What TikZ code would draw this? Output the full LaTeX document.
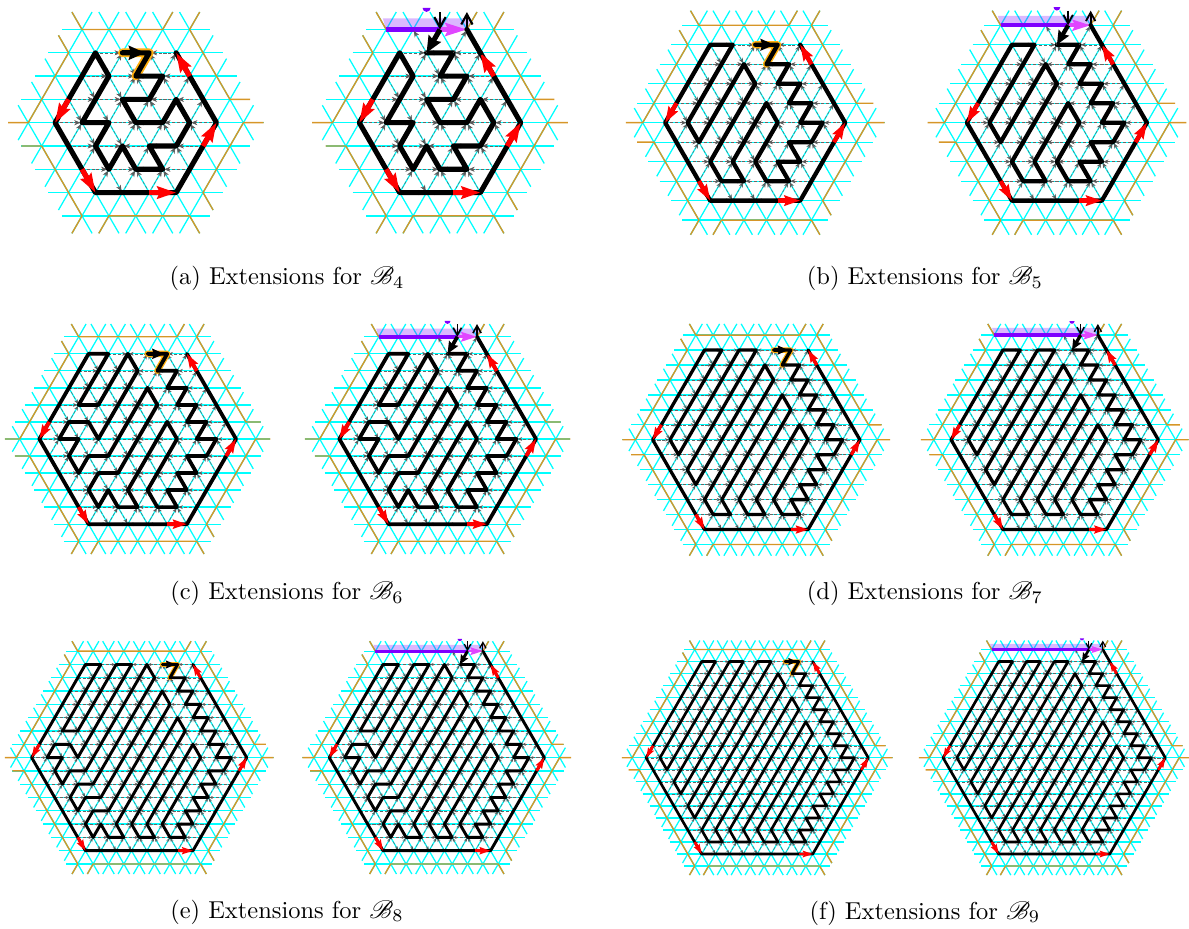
\documentclass[tikz,border=0pt]{standalone}
\usepackage{amsmath,amssymb,mathrsfs}
\usetikzlibrary{arrows.meta,positioning}

\definecolor{gridcyan}{RGB}{0,255,255}
\definecolor{rimbrown}{RGB}{214,150,40}
\definecolor{zorange}{RGB}{255,175,15}
\definecolor{barviolet}{RGB}{127,0,255}
\definecolor{barpink}{RGB}{224,70,255}

% z mark and first step, left picture of a pair
\newcommand{\zmark}{\draw[zpath] (\za,\nr) -- (\zc,\nr) -- (\zb,\zd);}
\newcommand{\zarrow}{\draw[startarrow] (\za,\nr) -- (\zf,\nr);}
% bar above the hexagon, right picture of a pair
\newcommand{\topbar}{%
  \fill[barband] (\nm,\nt) -- (\nl,\bt) -- (\nq,\bt) -- (\zd,\nt) -- cycle;
  \draw[barline] (\nm,\nt) -- (\zb,\nt);
  \draw[barhead] (\zb,\nt) -- (\zd,\nt);
  \fill[barviolet] (\za,\dy) ++(-\rd pt,0pt) arc[start angle=180,end angle=360,radius=\rd pt] -- cycle;}
\newcommand{\toparrows}{%
  \draw[route] (\nr,\nr) -- (\zd,\nt);
  \draw[flow] (\za,\nr) -- (\zg,\nt);
  \draw[flow] (\zc,\nr) -- (\zd,\nt);
  \draw[startarrow] (\zb,\nt) -- (\za,\nr);
  \draw[thinarrow] (\zb,\tp) -- (\zb,\nt);
  \draw[thinarrow] (\zd,\nt) -- (\zd,\tp);}

% center x, center y, unit, size, route, under route, over route
\newcommand{\hexpanel}[7]{%
  \begin{scope}[shift={(#1,929-#2)}]
    \pgfmathsetmacro\upt{#3*0.395}
    \pgfmathsetmacro\ux{\upt/2}
    \pgfmathsetmacro\uy{\upt*0.866}
    \pgfmathsetmacro\lw{\upt*0.19}
    \pgfmathsetmacro\al{\upt*0.23}
    \pgfmathsetmacro\aw{\upt*0.19}
    \pgfmathsetmacro\sh{\upt*0.06}
    \pgfmathsetmacro\rd{\upt*0.15}
    \pgfmathtruncatemacro\nr{#4}
    \pgfmathtruncatemacro\nn{2*#4}
    \pgfmathtruncatemacro\nt{#4+1}
    \pgfmathtruncatemacro\nm{-#4-1}
    \pgfmathtruncatemacro\za{#4-4}
    \pgfmathtruncatemacro\zb{#4-3}
    \pgfmathtruncatemacro\zc{#4-2}
    \pgfmathtruncatemacro\zd{#4-1}
    \pgfmathtruncatemacro\zg{#4-5}
    \pgfmathsetmacro\zf{#4-2.3}
    \pgfmathsetmacro\tp{#4+1.75}
    \pgfmathsetmacro\bt{#4+1.48}
    \pgfmathsetmacro\dy{#4+1.93}
    \pgfmathsetmacro\nl{-#4-1.25}
    \pgfmathsetmacro\nq{#4-0.7}
    \pgfmathsetmacro\gl{2*#4+3.5}
    \pgfmathsetmacro\ea{-#4-1.75}
    \pgfmathsetmacro\eb{#4-0.25}
    \begin{scope}[x=\ux pt,y=\uy pt]
      \foreach \ang in {0,60,120} {
        \begin{scope}[rotate=\ang]
          \foreach \k in {-\nt,...,\nt} {
            \pgfmathsetmacro\ge{\gl-abs(\k)}
            \draw[gridline] (-\ge,\k) -- (\ge,\k);
          }
        \end{scope}
      }
      \foreach \ang in {0,60,...,300} {
        \begin{scope}[rotate=\ang]
          \draw[rimline] (\ea,\tp) -- (\nm,\nt) -- (\zd,\nt) -- (\eb,\tp);
        \end{scope}
      }
      \foreach \r in {-\nr,...,\nr} {
        \pgfmathtruncatemacro\xe{\nn-abs(\r)}
        \pgfmathtruncatemacro\xs{-\xe}
        \pgfmathtruncatemacro\xt{\xs+2}
        \pgfmathtruncatemacro\ru{\r+1}
        \foreach \X in {\xs,\xt,...,\xe} {
          \pgfmathtruncatemacro\xa{\X+2}
          \pgfmathtruncatemacro\xb{\X+1}
          \pgfmathtruncatemacro\xc{\X-1}
          \ifnum\xa>\xe\else
            \ifnum\xb<0
              \draw[flow] (\X,\r) -- (\xa,\r);
            \else
              \draw[flow] (\xa,\r) -- (\X,\r);
            \fi
          \fi
          \ifnum\ru>\nr\else
            \ifnum\numexpr\X+\r+2\relax>\nn\else
              \draw[flow] (\X,\r) -- (\xb,\ru);
            \fi
            \ifnum\numexpr\r+2-\X\relax>\nn\else
              \ifnum\X<1
                \draw[flow] (\xc,\ru) -- (\X,\r);
              \else
                \draw[flow] (\X,\r) -- (\xc,\ru);
              \fi
            \fi
          \fi
        }
      }
      #6
      \draw[route] plot coordinates {#5};
      \pgfmathtruncatemacro\rp{\nr+1}
      \pgfmathtruncatemacro\rq{\nr-1}
      \pgfmathtruncatemacro\rs{\nr-2}
      \pgfmathtruncatemacro\rw{\nn-1}
      \draw[redarrow] (-\rw,1) -- (-\nn,0);
      \draw[redarrow] (-\rp,-\rq) -- (-\nr,-\nr);
      \draw[redarrow] (\rs,-\nr) -- (\nr,-\nr);
      \draw[redarrow] (\rw,-1) -- (\nn,0);
      \draw[redarrow] (\rp,\rq) -- (\nr,\nr);
      #7
    \end{scope}
  \end{scope}}

% left x, right x, center y, unit, size, route
\newcommand{\hexpair}[6]{%
  \hexpanel{#1}{#3}{#4}{#5}{#6}{\zmark}{\zarrow}
  \hexpanel{#2}{#3}{#4}{#5}{#6}{\topbar}{\toparrows}}

\begin{document}
\begin{tikzpicture}[
    x=0.395pt, y=0.395pt,
    gridline/.style={gridcyan, line width=0.5pt},
    rimline/.style={rimbrown, line width=0.55pt},
    flow/.style={black!60, line width=0.2pt, dash pattern=on 1.2pt off 0.7pt, shorten >=\sh pt,
        -{Stealth[length=\al pt,width=\aw pt,color=black!65]}},
    route/.style={black, line width=\lw pt, line join=round, line cap=round},
    zpath/.style={zorange, line width=1.7*\lw pt, line join=round, line cap=round},
    startarrow/.style={black, line width=\lw pt, -{Stealth[length=3.2*\lw pt,width=2.7*\lw pt,inset=0.4*\lw pt]}},
    redarrow/.style={red, line width=\lw pt, -{Stealth[length=3.7*\lw pt,width=2.4*\lw pt,inset=0.5*\lw pt]}},
    thinarrow/.style={black, line width=0.42*\lw pt, -{Straight Barb[length=2*\lw pt,width=2.2*\lw pt]}},
    barband/.style={barviolet, opacity=0.28},
    barline/.style={barviolet, line width=\lw pt},
    barhead/.style={barpink, line width=0.9*\lw pt, -{Stealth[length=4.2*\lw pt,width=2.5*\lw pt,inset=0.6*\lw pt]}},
    caption/.style={font=\fontsize{9.66}{12}\selectfont, inner sep=0pt}
]
    \useasboundingbox (0,0) rectangle (1189,929);

    \hexpair{135.8}{440}{122.7}{26.9}{3}{(-1,3) (1,3) (0,2) (2,2) (1,1) (-1,1) (0,0) (2,0) (3,1) (4,0) (3,-1) (1,-1) (2,-2) (0,-2) (-1,-1) (-2,-2) (-3,-1) (-2,0) (-4,0) (-2,2) (-3,3) (-6,0) (-3,-3) (3,-3) (6,0) (3,3)}

    \hexpair{755.2}{1056.9}{122.7}{22.5}{4}{(0,4) (2,4) (1,3) (3,3) (2,2) (4,2) (3,1) (5,1) (4,0) (6,0) (5,-1) (3,-1) (4,-2) (2,-2) (3,-3) (1,-3) (0,-2) (2,0) (1,1) (-2,-2) (-1,-3) (-3,-3) (-4,-2) (0,2) (-1,3) (-5,-1) (-6,0) (-2,4) (-4,4) (-8,0) (-4,-4) (4,-4) (8,0) (4,4)}

    \hexpair{137.7}{437.7}{439}{19.67}{5}{(1,5) (3,5) (2,4) (4,4) (3,3) (5,3) (4,2) (6,2) (5,1) (7,1) (6,0) (8,0) (7,-1) (5,-1) (6,-2) (4,-2) (5,-3) (3,-3) (4,-4) (2,-4) (1,-3) (4,0) (3,1) (-1,-3) (0,-4) (-2,-4) (-3,-3) (-4,-4) (-5,-3) (-4,-2) (-2,-2) (2,2) (1,3) (-3,-1) (-5,-1) (-6,-2) (-7,-1) (-6,0) (-8,0) (-7,1) (-5,1) (-4,0) (0,4) (-1,5) (-4,2) (-6,2) (-3,5) (-5,5) (-10,0) (-5,-5) (5,-5) (10,0) (5,5)}

    \hexpair{756.3}{1054.7}{439.8}{17.27}{6}{(2,6) (4,6) (3,5) (5,5) (4,4) (6,4) (5,3) (7,3) (6,2) (8,2) (7,1) (9,1) (8,0) (10,0) (9,-1) (7,-1) (8,-2) (6,-2) (7,-3) (5,-3) (6,-4) (4,-4) (5,-5) (3,-5) (2,-4) (6,0) (5,1) (0,-4) (1,-5) (-1,-5) (-2,-4) (4,2) (3,3) (-4,-4) (-3,-5) (-5,-5) (-6,-4) (2,4) (1,5) (-7,-3) (-8,-2) (0,6) (-2,6) (-9,-1) (-10,0) (-4,6) (-6,6) (-12,0) (-6,-6) (6,-6) (12,0) (6,6)}

    \hexpair{139.2}{436.8}{757.6}{15.36}{7}{(3,7) (5,7) (4,6) (6,6) (5,5) (7,5) (6,4) (8,4) (7,3) (9,3) (8,2) (10,2) (9,1) (11,1) (10,0) (12,0) (11,-1) (9,-1) (10,-2) (8,-2) (9,-3) (7,-3) (8,-4) (6,-4) (7,-5) (5,-5) (6,-6) (4,-6) (3,-5) (8,0) (7,1) (1,-5) (2,-6) (0,-6) (-1,-5) (6,2) (5,3) (-3,-5) (-2,-6) (-4,-6) (-5,-5) (-6,-6) (-7,-5) (-6,-4) (-4,-4) (4,4) (3,5) (-5,-3) (-7,-3) (-8,-4) (-9,-3) (-8,-2) (-6,-2) (2,6) (1,7) (-7,-1) (-9,-1) (-10,-2) (-11,-1) (-10,0) (-12,0) (-11,1) (-9,1) (-8,0) (-1,7) (-3,7) (-8,2) (-10,2) (-5,7) (-7,7) (-14,0) (-7,-7) (7,-7) (14,0) (7,7)}

    \hexpair{757.2}{1054.2}{757.8}{13.89}{8}{(4,8) (6,8) (5,7) (7,7) (6,6) (8,6) (7,5) (9,5) (8,4) (10,4) (9,3) (11,3) (10,2) (12,2) (11,1) (13,1) (12,0) (14,0) (13,-1) (11,-1) (12,-2) (10,-2) (11,-3) (9,-3) (10,-4) (8,-4) (9,-5) (7,-5) (8,-6) (6,-6) (7,-7) (5,-7) (4,-6) (10,0) (9,1) (2,-6) (3,-7) (1,-7) (0,-6) (8,2) (7,3) (-2,-6) (-1,-7) (-3,-7) (-4,-6) (6,4) (5,5) (-6,-6) (-5,-7) (-7,-7) (-8,-6) (4,6) (3,7) (-9,-5) (-10,-4) (2,8) (0,8) (-11,-3) (-12,-2) (-2,8) (-4,8) (-13,-1) (-14,0) (-6,8) (-8,8) (-16,0) (-8,-8) (8,-8) (16,0) (8,8)}

    \node[caption] (capa) at (287,650.5) {(a) Extensions for $\mathscr{B}_4$};
    \node[caption] (capb) at (925,650.5) {(b) Extensions for $\mathscr{B}_5$};
    \node[caption] (capc) at (287,335.5) {(c) Extensions for $\mathscr{B}_6$};
    \node[caption] (capd) at (925,335.5) {(d) Extensions for $\mathscr{B}_7$};
    \node[caption] (cape) at (287,17) {(e) Extensions for $\mathscr{B}_8$};
    \node[caption] (capf) at (925,16) {(f) Extensions for $\mathscr{B}_9$};
\end{tikzpicture}
\end{document}
